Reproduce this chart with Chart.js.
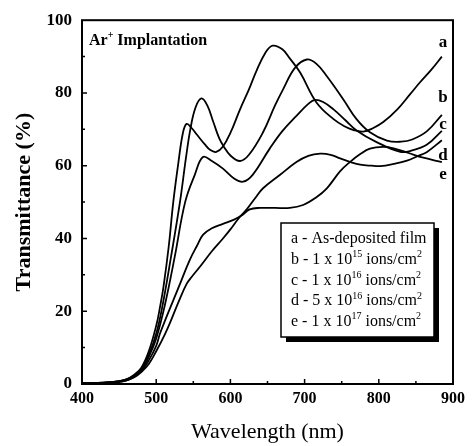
<!DOCTYPE html>
<html>
<head>
<meta charset="utf-8">
<script src="https://cdn.jsdelivr.net/npm/chart.js@4.4.1/dist/chart.umd.min.js"></script>
<style>
  html, body { margin: 0; padding: 0; background: #fff; }
</style>
</head>
<body>
<canvas id="chart" width="472" height="446"></canvas>
<script>
// wavelength (nm) / transmittance (%), one pair per curve
const waveA  = [400, 430, 450, 460, 470, 480, 490, 500, 505, 510, 517, 523, 530, 536, 541, 548, 555, 565, 573, 581, 590, 600, 613, 625, 635, 647, 657, 670, 680, 694, 716, 739, 755, 766, 779, 792, 806, 825, 842, 855, 870, 885];
const transA = [0.3, 0.4, 0.8, 1.3, 2.5, 4.5, 9, 16, 21, 27, 38, 50, 61, 69, 71.5, 70.3, 68.5, 66, 64.3, 63.8, 65.3, 69, 75.5, 81, 86, 91, 93, 92, 89.5, 85.6, 77.4, 72.8, 70.7, 69.8, 69.4, 70.3, 72, 75.5, 79.6, 82.8, 86.2, 90];

const waveB  = [400, 430, 450, 460, 470, 480, 490, 500, 508, 520, 532, 540, 546, 553, 561, 569, 577, 585, 591, 600, 613, 625, 644, 660, 671, 687, 703, 716, 730, 752, 770, 788, 811, 830, 845, 865, 885];
const transB = [0.3, 0.4, 0.8, 1.3, 2.3, 4.2, 8, 13.8, 21, 35, 50, 62, 70, 76, 78.5, 76.5, 72, 67.5, 65.3, 62.8, 61.3, 63, 69.2, 76.5, 81, 86.9, 89.2, 88, 84.6, 78.3, 72.8, 69.2, 66.9, 66.6, 67.2, 69.5, 74];

const waveC  = [400, 430, 450, 460, 470, 480, 490, 500, 512, 525, 539, 552, 563, 575, 590, 605, 617, 630, 653, 670, 689, 705, 714, 725, 739, 755, 770, 797, 829, 845, 865, 885];
const transC = [0.3, 0.4, 0.7, 1.2, 2.1, 3.9, 7.5, 12.5, 22, 35, 50, 57.5, 62.4, 61.3, 59.2, 56.5, 55.6, 57.5, 64.7, 69.5, 73.7, 77, 78.1, 77.5, 75.5, 72.5, 69.7, 66.5, 63.8, 64.2, 65.8, 69.6];

const waveD  = [400, 430, 450, 460, 470, 480, 490, 500, 512, 520, 530, 541, 548, 560, 575, 590, 600, 611, 622, 633, 644, 667, 689, 705, 721, 735, 748, 762, 775, 790, 802, 820, 838, 852, 865, 885];
const transD = [0.2, 0.3, 0.6, 1, 1.8, 3.3, 5.5, 9, 13.8, 17.5, 22.5, 27.5, 29.5, 32.5, 36.5, 40, 42.5, 45.5, 48, 51, 53.8, 57.5, 61, 62.7, 63.3, 63, 62, 61, 60.3, 60, 59.9, 60.5, 61.4, 62.6, 63.8, 67];

const waveE  = [400, 430, 450, 460, 470, 480, 490, 500, 505, 514, 523, 534, 545, 555, 563, 575, 590, 605, 615, 626, 640, 660, 680, 698, 715, 730, 748, 761, 775, 788, 806, 820, 840, 860, 885];
const transE = [0.2, 0.3, 0.6, 1, 2, 3.6, 6.5, 10.5, 13.8, 18.5, 23, 28.5, 34, 38, 41, 42.8, 44, 45.2, 46.3, 48, 48.4, 48.4, 48.4, 49.2, 51.2, 53.8, 58.5, 61, 63.2, 64.7, 65.2, 64.8, 63.5, 62.2, 61];

const curveLetters = ['a', 'b', 'c', 'd', 'e'];
const doseMantissa = [null, '1', '1', '5', '1'];
const doseExponent = [null, '15', '16', '16', '17'];

const xTicks = [400, 500, 600, 700, 800, 900];
const yTicks = [0, 20, 40, 60, 80, 100];

const serif = "'Liberation Serif', 'Times New Roman', serif";

function toPoints(xs, ys) {
  return xs.map((x, i) => ({ x: x, y: ys[i] }));
}

const series = [
  toPoints(waveA, transA),
  toPoints(waveB, transB),
  toPoints(waveC, transC),
  toPoints(waveD, transD),
  toPoints(waveE, transE)
];

// box around the plot + small inward ticks
const framePlugin = {
  id: 'frame',
  afterDatasetsDraw(chart) {
    const { ctx, chartArea: a, scales: { x, y } } = chart;
    ctx.save();
    ctx.strokeStyle = '#000';
    ctx.lineWidth = 2;
    ctx.strokeRect(a.left, a.top, a.right - a.left, a.bottom - a.top);
    ctx.lineWidth = 1.5;
    ctx.beginPath();
    for (let v = 450; v < 900; v += 50) {
      const px = x.getPixelForValue(v);
      const len = v % 100 ? 3 : 5;
      ctx.moveTo(px, a.bottom);
      ctx.lineTo(px, a.bottom - len);
    }
    for (let v = 10; v < 100; v += 10) {
      const py = y.getPixelForValue(v);
      const len = v % 20 ? 3 : 5;
      ctx.moveTo(a.left, py);
      ctx.lineTo(a.left + len, py);
    }
    ctx.stroke();
    ctx.restore();
  }
};

// write text with superscript pieces, returns the end x
function supText(ctx, parts, x, y, size, weight) {
  for (const [t, sup] of parts) {
    ctx.font = (weight || 'normal') + ' ' + (sup ? Math.round(size * 0.62) : size) + 'px ' + serif;
    ctx.fillText(t, x, sup ? y - size * 0.42 : y);
    x += ctx.measureText(t).width;
  }
  return x;
}

// title, curve letters and the legend box
const notesPlugin = {
  id: 'notes',
  afterDraw(chart) {
    const { ctx, chartArea: a } = chart;
    ctx.save();
    ctx.fillStyle = '#000';
    ctx.textBaseline = 'alphabetic';
    ctx.textAlign = 'left';

    supText(ctx, [['Ar'], ['+', true], [' Implantation']], a.left + 7, a.top + 25, 16, 'bold');

    const letterY = [47, 102, 129, 160, 179];
    ctx.textAlign = 'center';
    ctx.font = 'bold 17px ' + serif;
    curveLetters.forEach((c, i) => ctx.fillText(c, a.right - 10, letterY[i]));

    // legend
    const bx = 281, by = 223, bw = 153, bh = 114;
    ctx.fillRect(bx + 5, by + 5, bw, bh);
    ctx.fillStyle = '#fff';
    ctx.fillRect(bx, by, bw, bh);
    ctx.strokeStyle = '#000';
    ctx.lineWidth = 1.5;
    ctx.strokeRect(bx, by, bw, bh);
    ctx.fillStyle = '#000';
    ctx.textAlign = 'left';
    curveLetters.forEach((c, i) => {
      const yy = by + 20 + i * 20.8;
      if (i === 0) {
        supText(ctx, [[c + ' - As-deposited film']], bx + 10, yy, 16);
      } else {
        supText(ctx, [[c + ' - ' + doseMantissa[i] + ' x 10'], [doseExponent[i], true], [' ions/cm'], ['2', true]], bx + 10, yy, 16);
      }
    });
    ctx.restore();
  }
};

new Chart(document.getElementById('chart'), {
  type: 'line',
  data: {
    datasets: series.map((pts, i) => ({
      label: curveLetters[i],
      data: pts,
      borderColor: '#000',
      borderWidth: 1.8,
      pointRadius: 0,
      fill: false,
      tension: 0.4
    }))
  },
  options: {
    responsive: false,
    animation: false,
    layout: { padding: { left: 0, top: 17, right: 19, bottom: 0 } },
    plugins: {
      legend: { display: false },
      tooltip: { enabled: false }
    },
    scales: {
      x: {
        type: 'linear',
        min: 400,
        max: 900,
        grid: { display: false, drawTicks: false },
        border: { display: false },
        afterBuildTicks: s => { s.ticks = xTicks.map(v => ({ value: v })); },
        afterFit: s => { s.height = 62; },
        ticks: {
          color: '#000',
          padding: 5,
          maxRotation: 0,
          font: { family: serif, size: 16, weight: 'bold' }
        },
        title: {
          display: true,
          text: 'Wavelength (nm)',
          color: '#000',
          font: { family: serif, size: 22 },
          padding: { top: 0, bottom: 1 }
        }
      },
      y: {
        min: 0,
        max: 100,
        grid: { display: false, drawTicks: false },
        border: { display: false },
        afterBuildTicks: s => { s.ticks = yTicks.map(v => ({ value: v })); },
        afterFit: s => { s.width = 82; },
        ticks: {
          color: '#000',
          padding: 10,
          font: { family: serif, size: 17, weight: 'bold' }
        },
        title: {
          display: true,
          text: 'Transmittance (%)',
          color: '#000',
          font: { family: serif, size: 22, weight: 'bold' },
          padding: { top: 11, bottom: 0 }
        }
      }
    }
  },
  plugins: [framePlugin, notesPlugin]
});
</script>
</body>
</html>
